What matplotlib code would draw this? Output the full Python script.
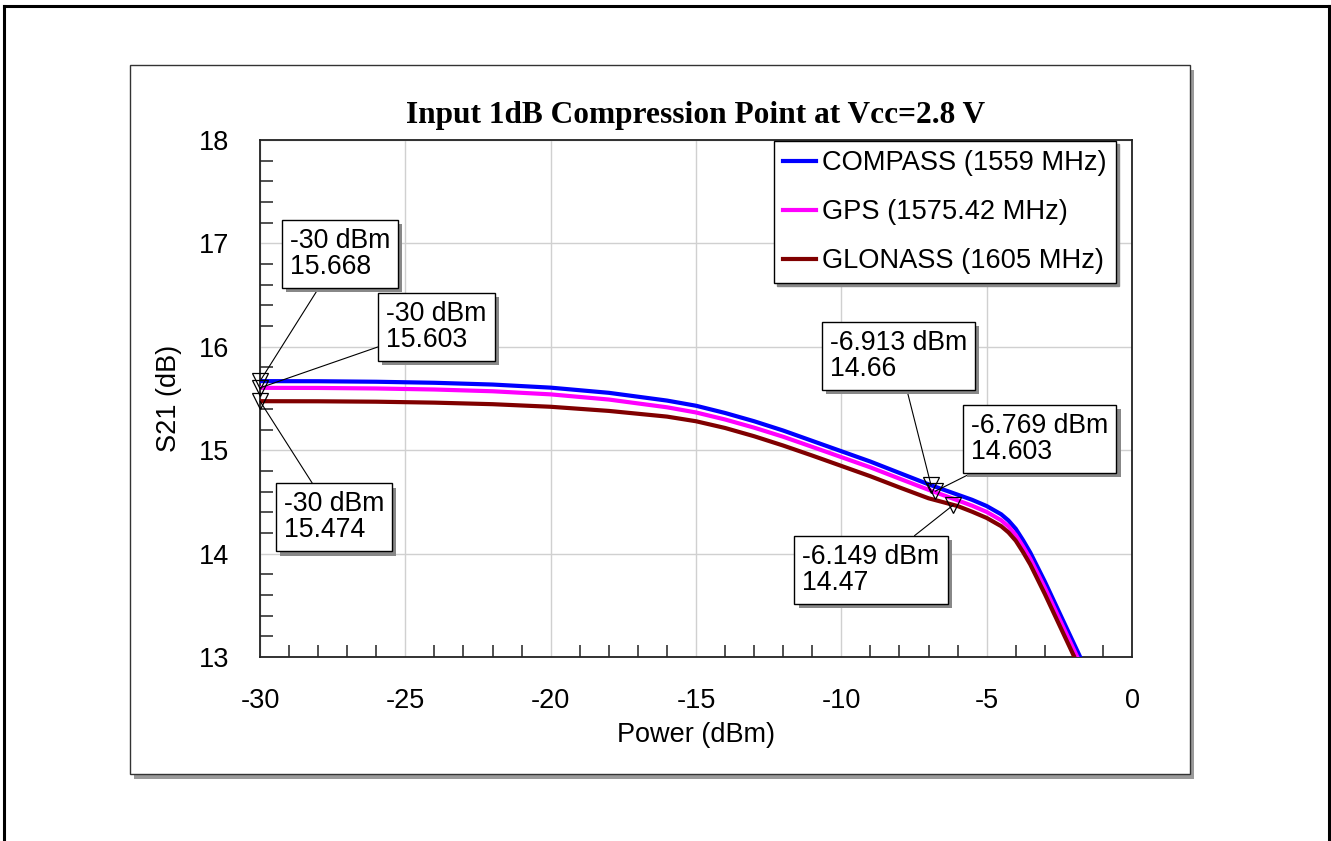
import matplotlib
matplotlib.use('Agg')
import numpy as np
from matplotlib import pyplot as plt
from matplotlib.patches import Rectangle
from matplotlib.lines import Line2D
import matplotlib.patheffects as pe

plt.rcParams['font.family'] = ['Liberation Sans', 'DejaVu Sans']
plt.rcParams['axes.unicode_minus'] = False

# input power sweep (dBm)
power = [-30, -28, -26, -24, -22, -20, -18, -16, -15, -14, -13, -12, -11, -10, -9,
         -8, -7, -6, -5.5, -5, -4.5, -4.25, -4, -3.75, -3.5, -3, -2.5, -2, -1.5]
s21_compass = [15.668, 15.667, 15.662, 15.652, 15.635, 15.605, 15.555, 15.48, 15.43,
               15.36, 15.28, 15.19, 15.09, 14.99, 14.89, 14.78, 14.67, 14.57, 14.52,
               14.46, 14.38, 14.32, 14.24, 14.13, 14.01, 13.73, 13.43, 13.13, 12.83]
s21_gps = [15.603, 15.602, 15.597, 15.587, 15.57, 15.54, 15.49, 15.415, 15.365,
           15.297, 15.218, 15.13, 15.032, 14.933, 14.834, 14.725, 14.617, 14.515, 14.463,
           14.403, 14.322, 14.262, 14.18, 14.07, 13.95, 13.67, 13.37, 13.07, 12.77]
s21_glonass = [15.474, 15.473, 15.469, 15.46, 15.445, 15.42, 15.38, 15.325, 15.28,
               15.215, 15.135, 15.045, 14.948, 14.848, 14.748, 14.64, 14.535, 14.46, 14.405,
               14.345, 14.265, 14.205, 14.125, 14.015, 13.895, 13.61, 13.31, 13.01, 12.71]

labels = ['COMPASS (1559 MHz)', 'GPS (1575.42 MHz)', 'GLONASS (1605 MHz)']
colors = ['#0000ff', '#ff00ff', '#800000']

# markers: (x, y) of the point, (x, y) of the label box centre
markers = [(-30, 15.668), (-30, 15.603), (-30, 15.474),
           (-6.913, 14.66), (-6.769, 14.603), (-6.149, 14.47)]
marker_text = [(-27.25, 16.895), (-23.93, 16.195), (-27.45, 14.35),
               (-8.04, 15.91), (-3.17, 15.11), (-8.98, 13.84)]

fig = plt.figure(figsize=(13.31, 8.41), dpi=100)

# outer frame (bottom edge is off the picture)
for xs, ys in [([0.003, 0.003], [0, 0.9929]), ([0.003, 0.9985], [0.9929, 0.9929]),
               ([0.9985, 0.9985], [0.9929, 0])]:
    fig.add_artist(Line2D(xs, ys, color='black', lw=2.2, transform=fig.transFigure))

# grey panel with drop shadow
px0, py0, pw, ph = 130 / 1331, 1 - 774 / 841, 1060 / 1331, 709 / 841
fig.patches.append(Rectangle((px0 + 4 / 1331, py0 - 5 / 841), pw, ph, transform=fig.transFigure,
                             facecolor='#9a9a9a', edgecolor='none', zorder=-3))
fig.patches.append(Rectangle((px0, py0), pw, ph, transform=fig.transFigure,
                             facecolor='white', edgecolor='#333333', lw=1, zorder=-2))

ax = fig.add_axes([260 / 1331, 1 - 657 / 841, 872 / 1331, 517 / 841])
ax.set_facecolor('none')

for y, lab, c in zip([s21_compass, s21_gps, s21_glonass], labels, colors):
    ax.plot(power, y, color=c, lw=3, label=lab, zorder=3, solid_joinstyle='round')

ax.set_xlim(-30, 0)
ax.set_ylim(13, 18)
ax.set_xticks(np.arange(-30, 1, 5))
ax.set_yticks(np.arange(13, 18.1, 1))
ax.set_xticks(np.arange(-30, 0, 1), minor=True)
ax.set_yticks(np.arange(13, 18, 0.2), minor=True)
ax.tick_params(which='major', length=0, pad=22, labelsize=19.5)
ax.tick_params(which='minor', direction='in', length=9, width=1.1, color='#222222')
ax.grid(True, which='major', color='#d0d0d0', lw=1)
ax.set_axisbelow(True)
for s in ax.spines.values():
    s.set_linewidth(1.3)
    s.set_color('#222222')

ax.set_xlabel('Power (dBm)', fontsize=19.5, labelpad=6)
ax.set_ylabel('S21 (dB)', fontsize=19.5, labelpad=12)
ax.set_title('Input 1dB Compression Point at Vcc=2.8 V', fontsize=22.6,
             fontweight='bold', family='Liberation Serif', pad=12)

for (mx, my), (tx, ty) in zip(markers, marker_text):
    ax.plot(mx, my, marker='v', ms=11, mfc='none', mec='black', mew=0.9,
            clip_on=False, zorder=5)
    unit = ' dBm'
    txt = f'{mx:g}{unit}\n{my:g}'
    ann = ax.annotate(txt, xy=(mx, my), xytext=(tx, ty), textcoords='data',
                      ha='center', va='center', multialignment='left', fontsize=19.2,
                      linespacing=1.0, zorder=6,
                      bbox=dict(boxstyle='square,pad=0.3', fc='white', ec='black', lw=1),
                      arrowprops=dict(arrowstyle='-', color='black', lw=0.8,
                                      shrinkA=0, shrinkB=0))
    ann.get_bbox_patch().set_path_effects([
        pe.SimplePatchShadow(offset=(3, -3), shadow_rgbFace='#888888', alpha=1),
        pe.Normal()])

leg = ax.legend(loc='upper right', bbox_to_anchor=(0.983, 1.0), fontsize=19.6,
                frameon=True, fancybox=False, edgecolor='black', framealpha=1,
                handlelength=1.2, handletextpad=0.25, labelspacing=0.85,
                borderpad=0.32, borderaxespad=0.05,
                shadow={'color': '#888888', 'alpha': 1})
leg.get_frame().set_linewidth(1)
leg.set_zorder(7)

fig.savefig('out.png', dpi=100)
